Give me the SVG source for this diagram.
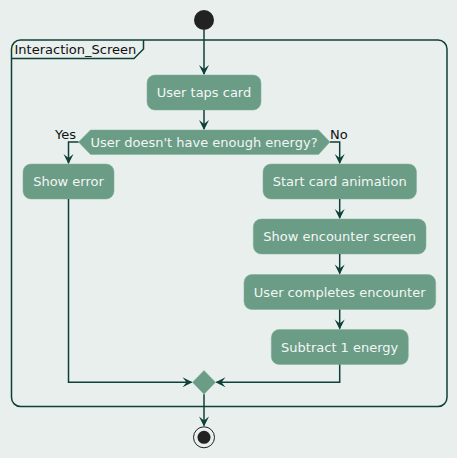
<svg xmlns="http://www.w3.org/2000/svg" width="457" height="458" viewBox="0 0 457 458">
<style>
.bg{fill:#E8EFEC}
.act{fill:#6A9C86;stroke:#7FAE98;stroke-width:0.5}
.t{font-family:"DejaVu Sans",sans-serif;font-size:13px;fill:#F2F7F4;text-anchor:middle}
.lbl{font-family:"DejaVu Sans",sans-serif;font-size:13px;fill:#111}
.ln{fill:none;stroke:#0F4038;stroke-width:1.5}
.ah{fill:#0F4038}
</style>
<defs>
<polygon id="ad" points="0,0 -5,-10 0,-6 5,-10"/>
</defs>
<rect class="bg" x="0" y="0" width="457" height="458"/>
<g id="frame">
<rect x="11.5" y="40" width="435.5" height="366.5" rx="9" fill="none" stroke="#0F4038" stroke-width="1.5"/>
<path d="M11.5,58.5 H134 L143.5,49 V40" fill="none" stroke="#0F4038" stroke-width="1.5"/>
<text class="lbl" x="14.5" y="54">Interaction_Screen</text>
</g>
<g id="start"><circle cx="204" cy="20" r="10" fill="#222"/></g>
<g id="n1"><rect class="act" x="147" y="75" width="114" height="35" rx="8"/><text class="t" x="204" y="97">User taps card</text></g>
<g id="dec"><polygon class="act" points="78.5,142 90.5,130 318.5,130 330,142 318.5,154.5 90.5,154.5"/><text class="t" x="204" y="146.5">User doesn't have enough energy?</text></g>
<g id="n2"><rect class="act" x="23" y="164" width="91" height="35" rx="8"/><text class="t" x="68.5" y="186">Show error</text></g>
<g id="n3"><rect class="act" x="263" y="164" width="153.5" height="35" rx="8"/><text class="t" x="339.7" y="186">Start card animation</text></g>
<g id="n4"><rect class="act" x="253.3" y="219" width="172.7" height="35" rx="8"/><text class="t" x="339.7" y="241">Show encounter screen</text></g>
<g id="n5"><rect class="act" x="244" y="274.5" width="191.7" height="35" rx="8"/><text class="t" x="339.7" y="296.5">User completes encounter</text></g>
<g id="n6"><rect class="act" x="271.3" y="329.5" width="137" height="35" rx="8"/><text class="t" x="339.7" y="351.5">Subtract 1 energy</text></g>
<g id="merge"><polygon class="act" points="204,370.5 215.5,382.3 204,394.2 192.5,382.3"/></g>
<g id="end"><circle cx="204" cy="437.3" r="10.5" fill="none" stroke="#222" stroke-width="1"/><circle cx="204" cy="437.3" r="6.5" fill="#222"/></g>
<g id="connectors">
<path class="ln" d="M204,30 V74"/>
<use href="#ad" class="ah" x="204" y="75"/>
<path class="ln" d="M204,110 V129"/>
<use href="#ad" class="ah" x="204" y="130"/>
<path class="ln" d="M78.5,142 H68.5 V163"/>
<use href="#ad" class="ah" x="68.5" y="164"/>
<text class="lbl" x="55" y="138.5">Yes</text>
<path class="ln" d="M330,142 H339.7 V163"/>
<use href="#ad" class="ah" x="339.7" y="164"/>
<text class="lbl" x="330" y="138.5">No</text>
<path class="ln" d="M339.7,199 V218"/>
<use href="#ad" class="ah" x="339.7" y="219"/>
<path class="ln" d="M339.7,254 V273.5"/>
<use href="#ad" class="ah" x="339.7" y="274.5"/>
<path class="ln" d="M339.7,309.5 V328.5"/>
<use href="#ad" class="ah" x="339.7" y="329.5"/>
<path class="ln" d="M68.5,199 V382.3 H191.5"/>
<use href="#ad" class="ah" transform="translate(192.5,382.3) rotate(-90)"/>
<path class="ln" d="M339.7,364.5 V382.3 H216.5"/>
<use href="#ad" class="ah" transform="translate(215.5,382.3) rotate(90)"/>
<path class="ln" d="M204,394.2 V425.5"/>
<use href="#ad" class="ah" x="204" y="426.5"/>
</g>
</svg>
